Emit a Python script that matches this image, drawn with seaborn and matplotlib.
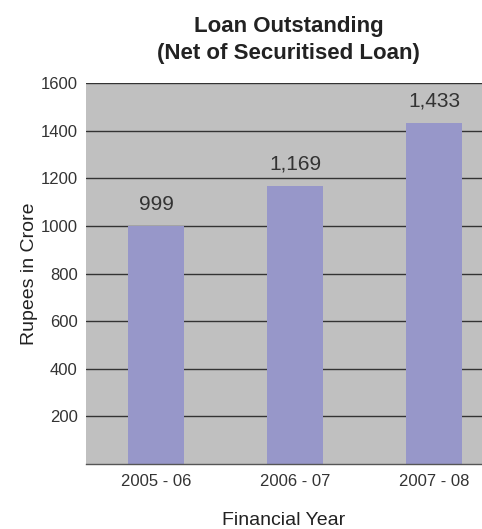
import matplotlib
matplotlib.use("Agg")
import matplotlib.pyplot as plt
import pandas as pd
import seaborn as sns
from matplotlib.ticker import FixedLocator

years = ["2005 - 06", "2006 - 07", "2007 - 08"]
loans = [999, 1169, 1433]
labels = ["999", "1,169", "1,433"]
yticks = [200, 400, 600, 800, 1000, 1200, 1400, 1600]

df = pd.DataFrame({"year": years, "loan": loans})

sns.set_style("white")
plt.rcParams["font.family"] = ["Liberation Sans", "DejaVu Sans"]

fig = plt.figure(figsize=(4.82, 5.29), dpi=100)
ax = fig.add_axes([86 / 482, 65 / 529, 396 / 482, 381 / 529])
ax.set_facecolor("#c0c0c0")

sns.barplot(data=df, x="year", y="loan", color="#9797c9", saturation=1,
            width=0.4, linewidth=0, ax=ax)

ax.set_ylim(0, 1600)
ax.set_xlim(-0.504, 2.345)
ax.set_yticks(yticks)
ax.set_yticklabels([str(t) for t in yticks], fontsize=12, color="#333333")
for t in yticks:
    ax.axhline(t, color="#333333", lw=1, zorder=0.5)
ax.tick_params(axis="y", length=3, width=1, color="#333333", pad=3)
ax.tick_params(axis="x", length=0, labelsize=12, labelcolor="#333333", pad=7)
ax.xaxis.set_minor_locator(FixedLocator([-0.5, 0.5, 1.5]))
ax.tick_params(axis="x", which="minor", length=4, width=1, color="#333333")

for s in ["top", "right", "left"]:
    ax.spines[s].set_visible(False)
ax.spines["bottom"].set_color("#555555")
ax.spines["bottom"].set_linewidth(1)

for i, (v, lab) in enumerate(zip(loans, labels)):
    ax.text(i, v + 50, lab, ha="center", va="bottom", fontsize=15, color="#333333")

ax.set_xlabel("Financial Year", fontsize=14, color="#222222", labelpad=17)
ax.set_ylabel("Rupees in Crore", fontsize=14, color="#222222", labelpad=2)
fig.text(288.5 / 482, 1 - 40 / 529, "Loan Outstanding\n(Net of Securitised Loan)", fontsize=16,
         fontweight="bold", color="#222222", ha="center", va="center", linespacing=1.4)

fig.savefig("out.png", dpi=100)
